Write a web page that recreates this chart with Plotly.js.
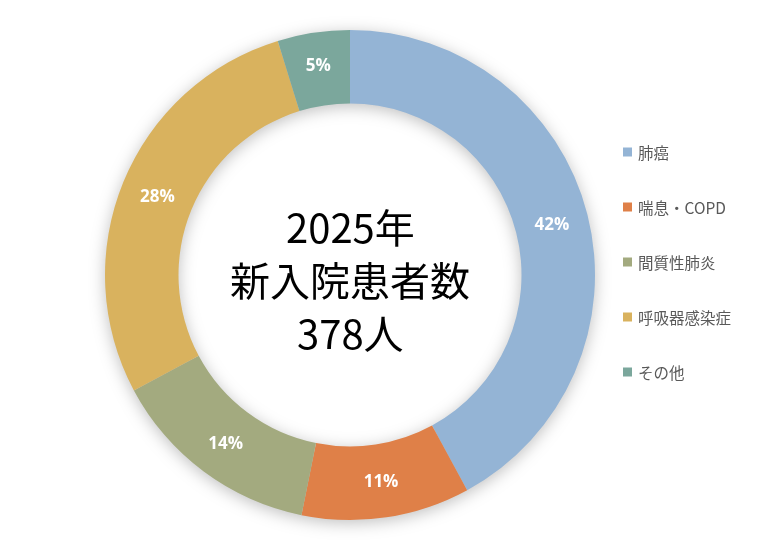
<!DOCTYPE html>
<html>
<head>
<meta charset="utf-8">
<script src="https://cdn.plot.ly/plotly-3.0.1.min.js"></script>
<style>
html,body{margin:0;padding:0;background:#fff;}
#chart{width:757px;height:549px;}
.pielayer{filter:drop-shadow(0px 3px 8px rgba(0,0,0,0.25));}
</style>
</head>
<body>
<div id="chart"></div>
<script>
const categories = ["肺癌", "喘息・COPD", "間質性肺炎", "呼吸器感染症", "その他"];
const patients = [159, 42, 53, 106, 18];
const colors = ["#94B4D5", "#DF8048", "#A3AA7F", "#D9B25E", "#7BA79C"];
const centerLines = ["2025年", "新入院患者数", "378人"];

const W = 757, H = 549;
const cx = 350, cy = 275, R = 245;

const pie = {
  type: "pie",
  labels: categories,
  values: patients,
  hole: 0.70,
  sort: false,
  direction: "clockwise",
  rotation: 0,
  marker: {colors: colors, line: {width: 0}},
  texttemplate: "%{percent:.0%}",
  textposition: "inside",
  insidetextorientation: "horizontal",
  textfont: {family: "Open Sans, Noto Sans, sans-serif", size: 17, color: "#ffffff", weight: "bold"},
  domain: {x: [(cx - R) / W, (cx + R) / W], y: [(H - cy - R) / H, (H - cy + R) / H]},
  showlegend: false,
  hoverinfo: "label+percent"
};

const annotations = [];
const shapes = [];
const lineY = [226, 279, 332];
centerLines.forEach((t, i) => {
  annotations.push({
    text: t, x: cx / W, y: 1 - lineY[i] / H, xref: "paper", yref: "paper",
    xanchor: "center", yanchor: "middle", showarrow: false,
    font: {family: "Noto Sans CJK JP", size: 40, color: "#000000"}
  });
});

const legTop = 152, legGap = 55, sq = 9, sqX = 623, txtX = 636;
categories.forEach((c, i) => {
  const y = legTop + i * legGap;
  shapes.push({
    type: "rect", xref: "paper", yref: "paper",
    x0: sqX / W, x1: (sqX + sq) / W,
    y0: 1 - (y + sq / 2) / H, y1: 1 - (y - sq / 2) / H,
    fillcolor: colors[i], line: {width: 0}
  });
  annotations.push({
    text: c, x: txtX / W, y: 1 - y / H, xref: "paper", yref: "paper",
    xanchor: "left", yanchor: "middle", showarrow: false,
    font: {family: "Noto Sans CJK JP", size: 15.5, color: "#595959"}
  });
});

const layout = {
  width: W, height: H,
  margin: {l: 0, r: 0, t: 0, b: 0},
  paper_bgcolor: "#ffffff",
  plot_bgcolor: "#ffffff",
  showlegend: false,
  annotations: annotations,
  shapes: shapes
};

Plotly.newPlot("chart", [pie], layout, {displayModeBar: false, staticPlot: true});
</script>
</body>
</html>
